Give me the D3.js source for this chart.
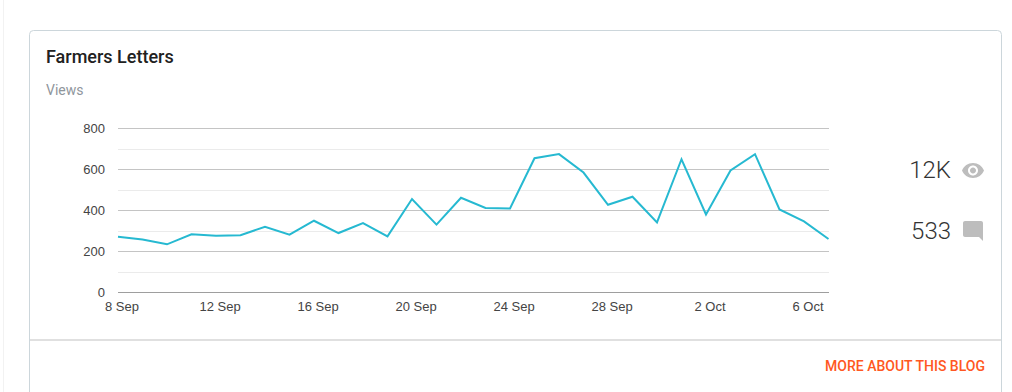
<!DOCTYPE html>
<html>
<head>
<meta charset="utf-8">
<script src="https://cdn.jsdelivr.net/npm/d3@7"></script>
<style>
html, body { margin: 0; padding: 0; background: #fff; overflow: hidden; }
svg { display: block; }
text { font-family: Roboto, sans-serif; }
.tick text { font-family: "Liberation Sans", Arial, sans-serif; font-size: 13px; fill: #444; }
</style>
</head>
<body>
<div class="holder"></div>
<script>
"use strict";

const startDate = "2023-09-08";
const views = [272, 258, 235, 284, 277, 279, 321, 282, 350, 290,
    339, 274, 456, 331, 462, 412, 410, 655, 675, 585,
    428, 467, 342, 650, 381, 595, 675, 405, 347, 261];
const yTicks = [0, 200, 400, 600, 800];
const yMinorTicks = [100, 300, 500, 700];
const xTickLabels = ["8 Sep", "12 Sep", "16 Sep", "20 Sep", "24 Sep", "28 Sep", "2 Oct", "6 Oct"];
const xTickDays = [0, 4, 8, 12, 16, 20, 24, 28];
const statLabels = ["12K", "533"];

let w = 1012,
    h = 392;

let parseDate = d3.utcParse("%Y-%m-%d");
let day0 = parseDate(startDate);
let dates = views.map(function(d, i) { return d3.utcDay.offset(day0, i); });
let xTickDates = xTickDays.map(function(d) { return d3.utcDay.offset(day0, d); });

let canvas = d3.select(".holder")
    .append("svg")
    .attr("width", w)
    .attr("height", h);

// page strip and card
canvas.append("line")
    .attr("x1", 3.5).attr("x2", 3.5)
    .attr("y1", 0).attr("y2", h)
    .attr("stroke", "#f2f2f2");

canvas.append("rect")
    .attr("x", 29.5).attr("y", 30.5)
    .attr("width", 972).attr("height", 400)
    .attr("rx", 4)
    .attr("fill", "#fff")
    .attr("stroke", "#ccd6db");

canvas.append("rect")
    .attr("x", 30).attr("y", 339)
    .attr("width", 971).attr("height", 2)
    .attr("fill", "#e0e0e0");

canvas.append("text")
    .attr("x", 46).attr("y", 63)
    .attr("font-size", 18)
    .attr("font-weight", 500)
    .attr("fill", "#212121")
    .text("Farmers Letters");

canvas.append("text")
    .attr("x", 46).attr("y", 95)
    .attr("font-size", 14)
    .attr("fill", "#8f969c")
    .text("Views");

// chart
let x = d3.scaleUtc()
    .domain([dates[0], dates[dates.length - 1]])
    .range([118, 828.5]);

let y = d3.scaleLinear()
    .domain([0, 800])
    .range([292.5, 128.5]);

let group = canvas.append("g");

group.selectAll("line.minor")
    .data(yMinorTicks)
    .enter()
    .append("line")
    .attr("class", "minor")
    .attr("x1", x.range()[0]).attr("x2", 829)
    .attr("y1", function(d) { return Math.floor(y(d)) + 0.5; })
    .attr("y2", function(d) { return Math.floor(y(d)) + 0.5; })
    .attr("stroke", "#ebebeb");

let axisY = d3.axisLeft(y)
    .tickValues(yTicks)
    .tickSize(0)
    .tickPadding(13)
    .offset(0);

let gy = group.append("g")
    .attr("transform", "translate(118,0)")
    .call(axisY);
gy.select(".domain").remove();
gy.selectAll(".tick line")
    .attr("x2", 711)
    .attr("stroke", "#c4c4c4");
gy.selectAll(".tick").filter(function(d) { return d === 0; }).select("line")
    .attr("stroke", "#9e9e9e");

let axisX = d3.axisBottom(x)
    .tickValues(xTickDates)
    .tickSize(0)
    .tickPadding(9)
    .offset(0)
    .tickFormat(function(d, i) { return xTickLabels[i]; });

let gx = group.append("g")
    .attr("transform", "translate(0,292.5)")
    .call(axisX);
gx.select(".domain").remove();
gx.selectAll(".tick text").attr("dx", 4);

let line = d3.line()
    .x(function(d, i) { return x(dates[i]); })
    .y(function(d) { return y(d); });

group.append("path")
    .datum(views)
    .attr("d", line)
    .attr("fill", "none")
    .attr("stroke", "#26b9d1")
    .attr("stroke-width", 2);

// stats on the right
canvas.selectAll("text.stat")
    .data(statLabels)
    .enter()
    .append("text")
    .attr("class", "stat")
    .attr("x", 951)
    .attr("y", function(d, i) { return i === 0 ? 178 : 239; })
    .attr("text-anchor", "end")
    .attr("font-size", 24)
    .attr("font-weight", 300)
    .attr("fill", "#333")
    .text(function(d) { return d; });

canvas.append("path")
    .attr("transform", "translate(961,158.5)")
    .attr("fill", "#bdbdbd")
    .attr("d", "M12 4.5C7 4.5 2.73 7.61 1 12c1.73 4.39 6 7.5 11 7.5s9.27-3.11 11-7.5c-1.73-4.39-6-7.5-11-7.5zM12 17c-2.76 0-5-2.24-5-5s2.24-5 5-5 5 2.24 5 5-2.24 5-5 5zm0-8c-1.66 0-3 1.34-3 3s1.34 3 3 3 3-1.34 3-3-1.34-3-3-3z");

canvas.append("path")
    .attr("transform", "translate(961,219)")
    .attr("fill", "#bdbdbd")
    .attr("d", "M21.99 4c0-1.1-.89-2-1.99-2H4c-1.1 0-2 .9-2 2v12c0 1.1.9 2 2 2h14l4 4-.01-18z");

canvas.append("text")
    .attr("x", 985).attr("y", 371)
    .attr("text-anchor", "end")
    .attr("font-size", 14)
    .attr("font-weight", 500)
    .attr("fill", "#ff5722")
    .text("MORE ABOUT THIS BLOG");
</script>
</body>
</html>
